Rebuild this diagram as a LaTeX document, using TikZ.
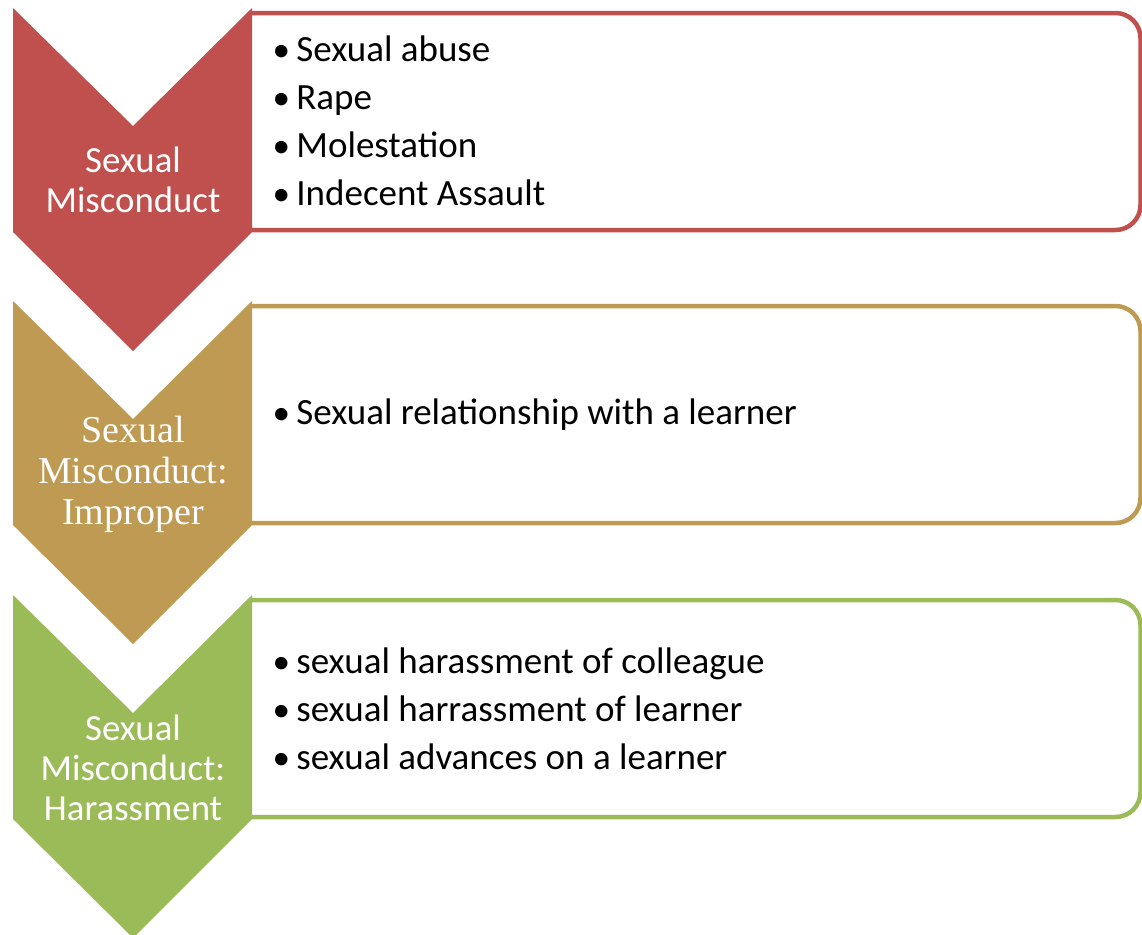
\documentclass[tikz,border=0pt]{standalone}
\usepackage{fontspec}
\setmainfont{Carlito}
\newfontfamily\serifhead{Liberation Serif}
\usetikzlibrary{positioning}

\definecolor{misred}{RGB}{192,80,77}
\definecolor{mistan}{RGB}{190,154,82}
\definecolor{misgreen}{RGB}{155,187,89}

\newcommand{\itm}{\makebox[10.5pt][l]{\hspace{-1.4pt}\scalebox{0.95}{•}}}

\begin{document}
\begin{tikzpicture}[
x=0.5pt, y=-0.5pt,
frame/.style={line width=2.25pt, rounded corners=12.5pt},
headnode/.style={text=white, align=center, inner sep=0pt, font=\fontsize{18.4}{20}\selectfont},
listnode/.style={anchor=west, align=left, inner sep=0pt, font=\fontsize{18.5}{24}\selectfont}
]
\useasboundingbox (0,0) rectangle (1142,934);

%Frames
\draw[frame, misred]   (252,13)  -- (1140.5,13)  -- (1140.5,230) -- (252,230);
\draw[frame, mistan]   (252,306) -- (1140.5,306) -- (1140.5,523) -- (252,523);
\draw[frame, misgreen] (252,600) -- (1140.5,600) -- (1140.5,817) -- (252,817);

%Chevrons
\fill[misred]   (13,8)   -- (133,126) -- (252,8)   -- (252,232) -- (133,351) -- (13,232) -- cycle;
\fill[mistan]   (13,301) -- (133,419) -- (252,301) -- (252,525) -- (133,644) -- (13,525) -- cycle;
\fill[misgreen] (13,595) -- (133,713) -- (252,595) -- (252,819) -- (133,938) -- (13,819) -- cycle;

%Chevron Heads
\node[headnode] (abuse)  at (133,180) {Sexual\\Misconduct};
\node[headnode, font=\serifhead\fontsize{19}{20.5}\selectfont] (improper) at (133,474) {Sexual\\Misconduct:\\Improper};
\node[headnode] (harass) at (133,768) {Sexual\\Misconduct:\\Harassment};

%Lists
\node[listnode] (abuselist) at (275,121) {\itm Sexual abuse\\\itm Rape\\\itm Molestation\\\itm Indecent Assault};
\node[listnode] (improperlist) at (275,415) {\itm Sexual relationship with a learner};
\node[listnode] (harasslist) at (275,709) {\itm sexual harassment of colleague\\\itm sexual harrassment of learner\\\itm sexual advances on a learner};

\end{tikzpicture}
\end{document}
